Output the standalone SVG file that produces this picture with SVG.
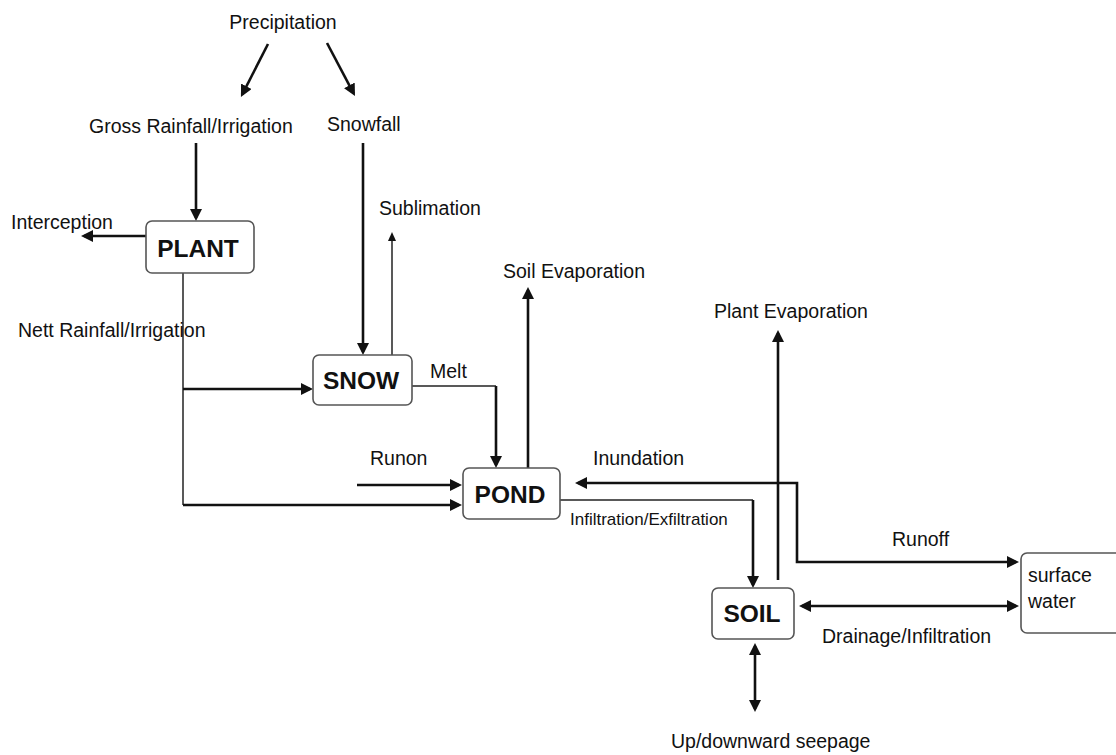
<svg xmlns="http://www.w3.org/2000/svg" width="1116" height="755" viewBox="0 0 1116 755">
<style>
.t{font-family:"Liberation Sans",Arial,sans-serif;font-size:19.5px;fill:#111}
.s{font-family:"Liberation Sans",Arial,sans-serif;font-size:17px;fill:#111}
.b{font-family:"Liberation Sans",Arial,sans-serif;font-size:24.5px;font-weight:bold;fill:#111;text-anchor:middle}
.box{fill:#fff;stroke:#555;stroke-width:1.6}
.k{fill:none;stroke:#111;stroke-width:2.6;marker-end:url(#ah)}
.kk{fill:none;stroke:#111;stroke-width:2.6;marker-end:url(#ah);marker-start:url(#ahs)}
.n{fill:none;stroke:#222;stroke-width:1.5}
</style>
<defs>
<marker id="ah" viewBox="0 0 14 14" markerWidth="14" markerHeight="14" refX="9" refY="6" orient="auto" markerUnits="userSpaceOnUse"><path d="M0,0 L12,6 L0,12 z" fill="#111"/></marker>
<marker id="ahs" viewBox="0 0 14 14" markerWidth="14" markerHeight="14" refX="9" refY="6" orient="auto-start-reverse" markerUnits="userSpaceOnUse"><path d="M0,0 L12,6 L0,12 z" fill="#111"/></marker>
<marker id="sm" viewBox="0 0 10 10" markerWidth="10" markerHeight="10" refX="6" refY="4" orient="auto" markerUnits="userSpaceOnUse"><path d="M0,0 L9,4 L0,8 z" fill="#111"/></marker>
</defs>
<rect width="1116" height="755" fill="#fff"/>
<g id="connectors">
<path class="k" d="M268,44 L242.3,94.3"/>
<path class="k" d="M327,43 L353.6,93.3"/>
<path class="k" d="M196,143 V218"/>
<path class="k" d="M146,236 H84"/>
<path class="n" d="M183,273 V505"/>
<path class="k" d="M183,389 H310"/>
<path class="k" d="M183,505 H459"/>
<path class="k" d="M363,143 V352"/>
<path class="n" d="M392,355 V235" style="marker-end:url(#sm)"/>
<path class="n" d="M412,386 H496"/>
<path class="k" d="M496,386 V465"/>
<path class="k" d="M528,468 V290"/>
<path class="k" d="M357,485 H459"/>
<path class="kk" d="M578,483 H797 V562 H1016"/>
<path class="n" d="M560,500 H753"/>
<path class="k" d="M753,500 V585"/>
<path class="k" d="M778,580 V333"/>
<path class="kk" d="M802,606 H1016"/>
<path class="kk" d="M755,646 V709"/>
</g>
<g id="plant"><rect class="box" x="146" y="221" width="108" height="52" rx="6"/><text class="b" x="198" y="257">PLANT</text></g>
<g id="snow"><rect class="box" x="313" y="355" width="99" height="50" rx="6"/><text class="b" x="361" y="389">SNOW</text></g>
<g id="pond"><rect class="box" x="463" y="468" width="97" height="51" rx="6"/><text class="b" x="510" y="503">POND</text></g>
<g id="soil"><rect class="box" x="712" y="588" width="82" height="51" rx="6"/><text class="b" x="752" y="622">SOIL</text></g>
<g id="surface-water"><rect class="box" x="1021" y="553" width="110" height="80" rx="6"/><text class="t" x="1028" y="582">surface</text><text class="t" x="1028" y="608">water</text></g>
<g id="labels">
<text class="t" x="283" y="29" text-anchor="middle">Precipitation</text>
<text class="t" x="89" y="133">Gross Rainfall/Irrigation</text>
<text class="t" x="327" y="131">Snowfall</text>
<text class="t" x="11" y="229">Interception</text>
<text class="t" x="379" y="215">Sublimation</text>
<text class="t" x="18" y="337">Nett Rainfall/Irrigation</text>
<text class="t" x="430" y="378">Melt</text>
<text class="t" x="503" y="278">Soil Evaporation</text>
<text class="t" x="370" y="465">Runon</text>
<text class="t" x="593" y="465">Inundation</text>
<text class="s" x="570" y="525">Infiltration/Exfiltration</text>
<text class="t" x="714" y="318">Plant Evaporation</text>
<text class="t" x="892" y="546">Runoff</text>
<text class="t" x="822" y="643">Drainage/Infiltration</text>
<text class="t" x="671" y="748">Up/downward seepage</text>
</g>
</svg>
